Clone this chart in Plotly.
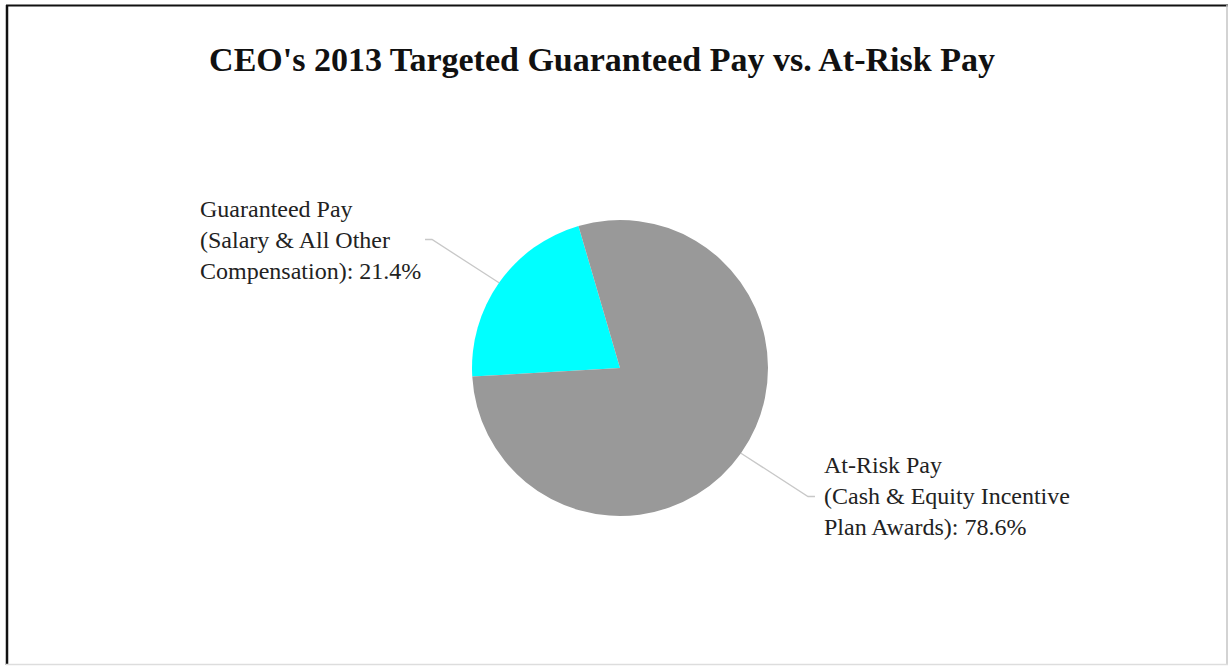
import math
import plotly.graph_objects as go

# Pay mix data
categories = ["Guaranteed Pay", "At-Risk Pay"]
label_lines = [
    ["Guaranteed Pay", "(Salary & All Other", "Compensation)"],
    ["At-Risk Pay", "(Cash & Equity Incentive", "Plan Awards)"],
]
shares = [21.4, 78.6]
colors = ["#00FFFF", "#999999"]

W, H = 1230, 667
CX, CY, R = 620, 368, 148          # pie centre / radius in pixels
BOUNDARY_ANGLE = -16.3              # clockwise degrees from 12 o'clock where At-Risk ends
LEADER_DX, LEADER_DY = 82, 75       # leader reach along the slice's mid direction
LEADER_TAIL = 7
FONT = "Liberation Serif, Times New Roman, serif"

total = sum(shares)
rotation = BOUNDARY_ANGLE - 360.0 * shares[0] / total


def px2paper(x, y):
    return x / W, 1 - y / H


fig = go.Figure(
    go.Pie(
        labels=categories,
        values=shares,
        sort=False,
        direction="clockwise",
        rotation=rotation,
        marker=dict(colors=colors, line=dict(width=0)),
        textinfo="none",
        hoverinfo="label+percent",
        showlegend=False,
        domain=dict(
            x=[(CX - R) / W, (CX + R) / W],
            y=[1 - (CY + R) / H, 1 - (CY - R) / H],
        ),
    )
)

shapes = []
annotations = []
cum = 0.0
for lines, v in zip(label_lines, shares):
    a0 = rotation + 360.0 * cum / total
    a1 = a0 + 360.0 * v / total
    cum += v
    mid = math.radians((a0 + a1) / 2)
    sx, sy = math.sin(mid), -math.cos(mid)
    ex, ey = CX + R * sx, CY + R * sy
    kx, ky = ex + LEADER_DX * sx, ey + LEADER_DY * sy
    side = 1 if sx > 0 else -1
    tx = kx + side * LEADER_TAIL
    p = [px2paper(ex, ey), px2paper(kx, ky), px2paper(tx, ky)]
    shapes.append(dict(
        type="path", xref="paper", yref="paper",
        path=f"M {p[0][0]},{p[0][1]} L {p[1][0]},{p[1][1]} L {p[2][0]},{p[2][1]}",
        line=dict(color="#c8c8c8", width=1.3),
    ))
    text = "<br>".join(lines[:-1] + [f"{lines[-1]}: {v:.1f}%"])
    gap = 7 if side > 0 else 2
    ax, ay = px2paper(tx + side * gap, ky)
    annotations.append(dict(
        x=ax, y=ay, xref="paper", yref="paper", text=text, showarrow=False,
        xanchor="left" if side > 0 else "right", yanchor="middle", align="left",
        font=dict(family=FONT, size=24, color="#222222"),
    ))

# frame around the chart
frame = [
    (7, 5, 7, 665, "#111111", 2.5),
    (6, 5.5, 1228, 5.5, "#111111", 2.2),
    (1227, 5, 1227, 665, "#c4c4c4", 1.5),
    (6, 664.5, 1228, 664.5, "#dddddd", 1.5),
]
for x0, y0, x1, y1, c, w in frame:
    a = px2paper(x0, y0)
    b = px2paper(x1, y1)
    shapes.append(dict(type="line", xref="paper", yref="paper",
                       x0=a[0], y0=a[1], x1=b[0], y1=b[1],
                       line=dict(color=c, width=w)))

fig.update_layout(
    width=W, height=H,
    margin=dict(l=0, r=0, t=0, b=0),
    paper_bgcolor="white",
    plot_bgcolor="white",
    title=dict(
        text="<b>CEO's 2013 Targeted Guaranteed Pay vs. At-Risk Pay</b>",
        x=602 / W, xanchor="center", y=1 - 59 / H, yanchor="middle",
        xref="paper", yref="paper",
        font=dict(family=FONT, size=34, color="#111111"),
    ),
    shapes=shapes,
    annotations=annotations,
)

fig.write_html("out.html")
